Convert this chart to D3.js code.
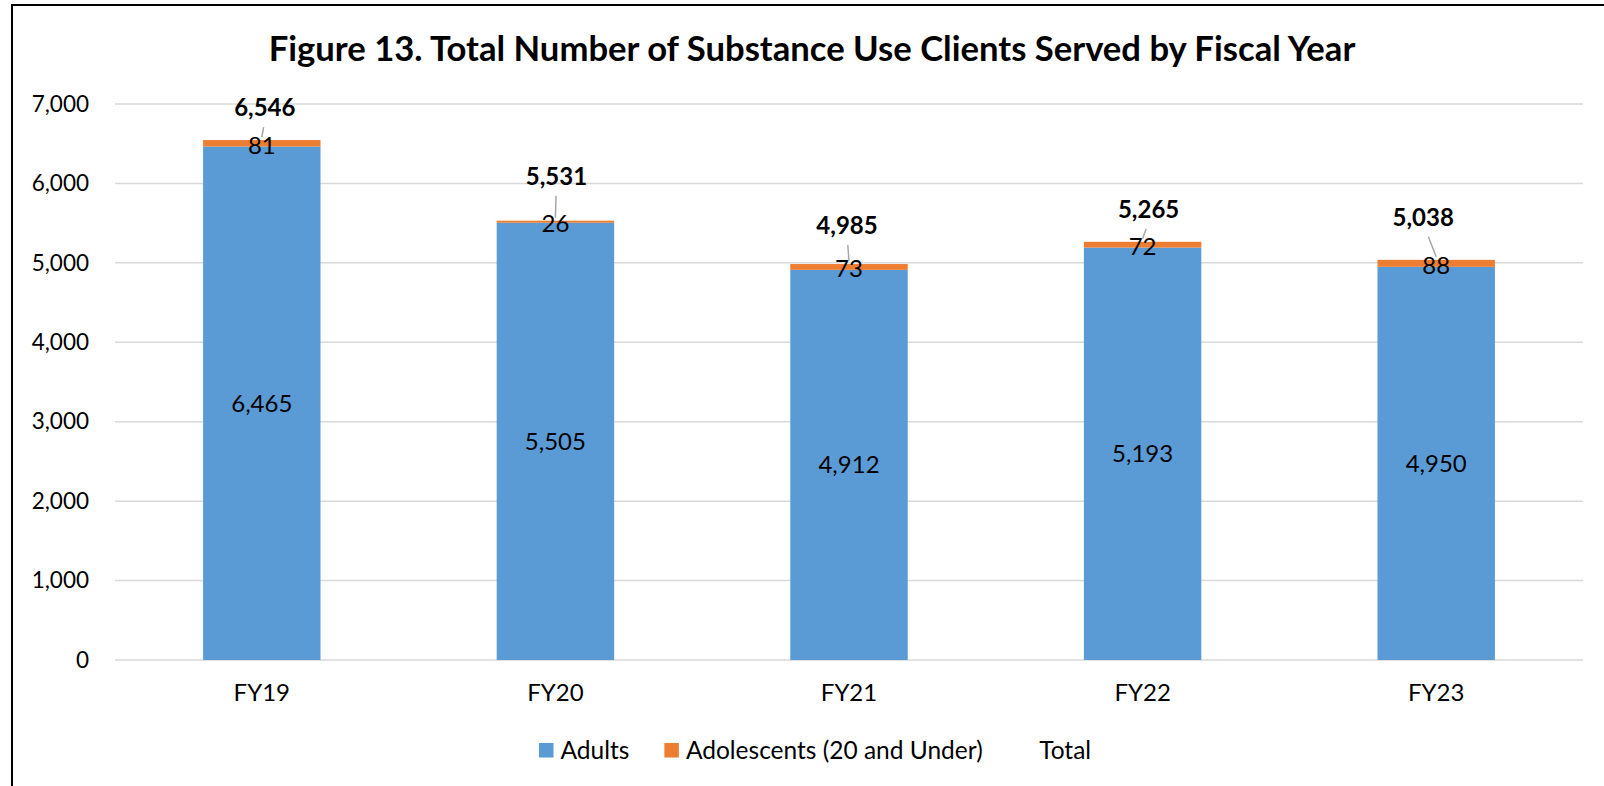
<!DOCTYPE html>
<html>
<head>
<meta charset="utf-8">
<script src="https://cdn.jsdelivr.net/npm/d3@7"></script>
<style>
  html, body { margin: 0; padding: 0; background: #fff; }
  svg { display: block; font-family: Lato, "Open Sans", sans-serif; }
</style>
</head>
<body>
<svg id="chart" width="1604" height="786"></svg>
<script>
// ---- data ----
const categories = ["FY19", "FY20", "FY21", "FY22", "FY23"];
const adults = [6465, 5505, 4912, 5193, 4950];
const adolescents = [81, 26, 73, 72, 88];
const totals = [6546, 5531, 4985, 5265, 5038];
const yTicks = [0, 1000, 2000, 3000, 4000, 5000, 6000, 7000];
const seriesNames = ["Adults", "Adolescents (20 and Under)", "Total"];
const titleText = "Figure 13. Total Number of Substance Use Clients Served by Fiscal Year";

// ---- layout (label nudges, px, relative to bar centre / bar top) ----
const totalLabelDx = [3, 1, -2, 6, -13];
const totalLabelDy = [-32, -44, -38, -32, -42];

const colors = { adults: "#5B9BD5", adol: "#ED7D31", grid: "#D9D9D9", leader: "#A6A6A6", text: "#000" };

const svg = d3.select("#chart");
const fmt = d3.format(",");

// frame
svg.append("path")
  .attr("d", "M12,800 L12,5 L1610,5")
  .attr("fill", "none").attr("stroke", "#000").attr("stroke-width", 2);

const x = d3.scaleBand().domain(categories).range([115, 1583]).paddingInner(0.6).paddingOuter(0.3);
const y = d3.scaleLinear().domain([0, 7000]).range([660, 104]);

// title
const title = svg.append("text")
  .attr("x", 812).attr("y", 61)
  .attr("text-anchor", "middle")
  .attr("font-weight", "bold")
  .attr("font-size", 32)
  .attr("fill", colors.text)
  .text(titleText);
(function(){
  const w = title.node().getComputedTextLength();
  title.attr("font-size", 32 * 1087 / w);
})();

// gridlines + y axis labels
const yAxis = d3.axisLeft(y).tickValues(yTicks).tickFormat(fmt).tickSize(0).tickPadding(0);
const gy = svg.append("g").attr("transform", "translate(89,0)").call(yAxis);
gy.select(".domain").remove();
gy.selectAll("text").attr("font-size", 22.5).attr("font-family", "Lato, sans-serif").attr("fill", "#000");

svg.append("g").selectAll("line").data(yTicks).join("line")
  .attr("x1", 115).attr("x2", 1583)
  .attr("y1", d => y(d)).attr("y2", d => y(d))
  .attr("stroke", colors.grid).attr("stroke-width", 1.5);

// x axis labels
const xAxis = d3.axisBottom(x).tickSize(0).tickPadding(0);
const gx = svg.append("g").attr("transform", "translate(0,684)").call(xAxis);
gx.select(".domain").remove();
gx.selectAll("text").attr("font-size", 24).attr("font-family", "Lato, sans-serif").attr("fill", "#000");

// stacked data
const rows = categories.map((c, i) => ({ cat: c, adults: adults[i], adol: adolescents[i], total: totals[i], i }));
const stack = d3.stack().keys(["adults", "adol"])(rows);
const fills = [colors.adults, colors.adol];

svg.append("g").selectAll("g").data(stack).join("g")
  .attr("fill", (d, k) => fills[k])
  .selectAll("rect").data(d => d).join("rect")
  .attr("x", d => x(d.data.cat))
  .attr("width", x.bandwidth())
  .attr("y", d => y(d[1]))
  .attr("height", d => y(d[0]) - y(d[1]));

// adults labels (centred in segment)
svg.append("g").selectAll("text").data(stack[0]).join("text")
  .attr("x", d => x(d.data.cat) + x.bandwidth() / 2)
  .attr("y", d => (y(d[0]) + y(d[1])) / 2)
  .attr("dy", "0.35em")
  .attr("text-anchor", "middle")
  .attr("font-size", 24)
  .text(d => fmt(d.data.adults));

// leader lines for totals
const cx = d => x(d.cat) + x.bandwidth() / 2;
svg.append("g").selectAll("line").data(rows).join("line")
  .attr("x1", d => cx(d) + totalLabelDx[d.i] * 0.6)
  .attr("y1", d => y(d.total) + totalLabelDy[d.i] + 19)
  .attr("x2", d => cx(d))
  .attr("y2", d => y(d.total) - 3)
  .attr("stroke", colors.leader).attr("stroke-width", 1.5);

// adolescent labels
svg.append("g").selectAll("text").data(stack[1]).join("text")
  .attr("x", d => x(d.data.cat) + x.bandwidth() / 2)
  .attr("y", d => (y(d[0]) + y(d[1])) / 2 + 2)
  .attr("dy", "0.35em")
  .attr("text-anchor", "middle")
  .attr("font-size", 24)
  .text(d => fmt(d.data.adol));

// total labels
svg.append("g").selectAll("text").data(rows).join("text")
  .attr("x", d => cx(d) + totalLabelDx[d.i])
  .attr("y", d => y(d.total) + totalLabelDy[d.i])
  .attr("dy", "0.35em")
  .attr("text-anchor", "middle")
  .attr("font-weight", "bold")
  .attr("font-size", 24)
  .text(d => fmt(d.total));

// legend
const legend = svg.append("g").attr("transform", "translate(539,750)");
const legendColors = [colors.adults, colors.adol, "none"];
let lx = 0;
seriesNames.forEach((name, k) => {
  const g = legend.append("g").attr("transform", `translate(${lx},0)`);
  g.append("rect").attr("x", 0).attr("y", -7).attr("width", 14.5).attr("height", 14.5).attr("fill", legendColors[k]);
  const t = g.append("text").attr("x", 21.5).attr("dy", "0.35em").attr("font-size", 24.5).text(name);
  lx += 21.5 + t.node().getComputedTextLength() + 35;
});
</script>
</body>
</html>
